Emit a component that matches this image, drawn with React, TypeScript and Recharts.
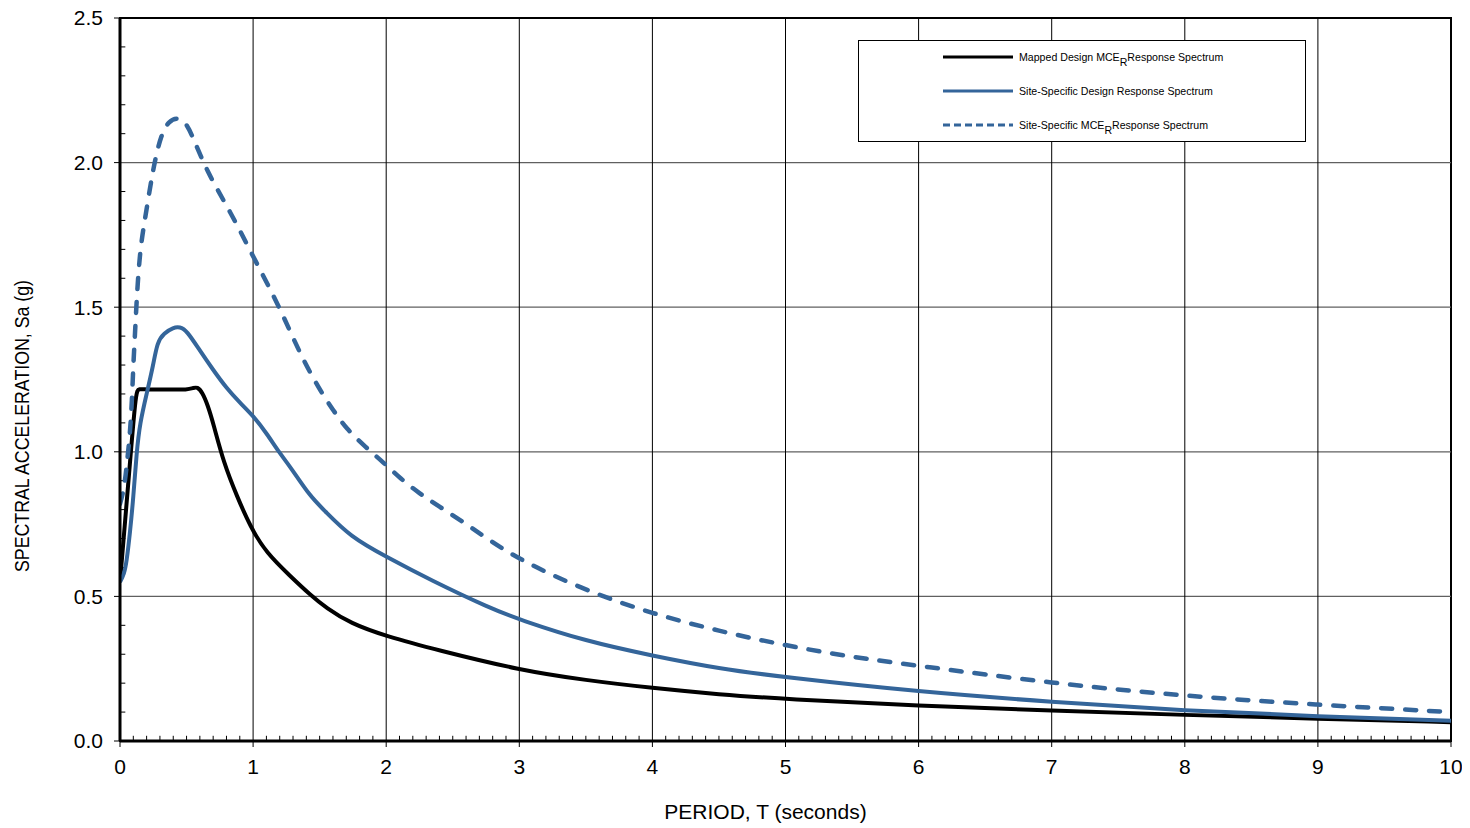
import React from 'react';
import { LineChart, Line, XAxis, YAxis, ReferenceLine, ReferenceArea, Legend } from 'recharts';

// ---- Axis ticks ----
const xMajorTicks = [0, 1, 2, 3, 4, 5, 6, 7, 8, 9, 10];
const yMajorTicks = [0, 0.5, 1.0, 1.5, 2.0, 2.5];
const xGridLines = [1, 2, 3, 4, 5, 6, 7, 8, 9];
const yGridLines = [0.5, 1.0, 1.5, 2.0];
const xMinorTicks = Array.from({ length: 99 }, (_, i) => Math.round((i + 1) * 10) / 100).filter((v) => Math.abs(v - Math.round(v)) > 1e-6);
const yMinorTicks = Array.from({ length: 24 }, (_, i) => Math.round((i + 1) * 10) / 100).filter((v) => Math.abs(v * 2 - Math.round(v * 2)) > 1e-6);

// ---- Series: Mapped Design MCE_R Response Spectrum ----
const mappedPeriod = [0, 0.04, 0.08, 0.12, 0.14, 0.2, 0.3, 0.4, 0.5, 0.55, 0.58, 0.62, 0.66, 0.7, 0.78, 0.88, 0.98, 1.1, 1.28, 1.43, 1.55, 1.73, 2.0, 2.38, 3.0, 3.5, 4.0, 4.5, 5.0, 6.0, 7.0, 8.0, 9.0, 10.0];
const mappedSa = [0.55, 0.77, 0.99, 1.21, 1.218, 1.215, 1.215, 1.215, 1.215, 1.22, 1.225, 1.205, 1.16, 1.1, 0.96, 0.845, 0.74, 0.65, 0.57, 0.505, 0.46, 0.407, 0.362, 0.315, 0.245, 0.21, 0.183, 0.161, 0.145, 0.122, 0.105, 0.09, 0.077, 0.065];

// ---- Series: Site-Specific Design Response Spectrum ----
const designPeriod = [0, 0.03, 0.05, 0.075, 0.1, 0.125, 0.15, 0.2, 0.25, 0.28, 0.33, 0.4, 0.45, 0.5, 0.6, 0.7, 0.8, 0.9, 1.0, 1.1, 1.2, 1.28, 1.43, 1.53, 1.73, 2.0, 2.33, 2.78, 3.0, 3.5, 4.0, 4.5, 5.0, 6.0, 7.0, 8.0, 9.0, 10.0];
const designSa = [0.55, 0.575, 0.62, 0.72, 0.84, 1.0, 1.1, 1.2, 1.3, 1.38, 1.41, 1.43, 1.432, 1.42, 1.35, 1.283, 1.22, 1.17, 1.125, 1.065, 0.995, 0.948, 0.845, 0.8, 0.706, 0.637, 0.557, 0.459, 0.42, 0.345, 0.295, 0.25, 0.22, 0.17, 0.135, 0.105, 0.085, 0.07];

// ---- Series: Site-Specific MCE_R Response Spectrum ----
const mcePeriod = [0, 0.03, 0.05, 0.075, 0.09, 0.1, 0.113, 0.125, 0.15, 0.19, 0.25, 0.31, 0.37, 0.43, 0.48, 0.53, 0.65, 0.83, 1.0, 1.2, 1.35, 1.5, 1.6, 1.7, 1.84, 2.0, 2.1, 2.25, 2.4, 2.57, 2.72, 3.0, 3.5, 4.0, 4.5, 5.0, 5.5, 6.0, 7.0, 8.0, 9.0, 10.0];
const mceSa = [0.82, 0.87, 0.95, 1.06, 1.18, 1.3, 1.41, 1.525, 1.7, 1.81, 1.985, 2.1, 2.145, 2.155, 2.145, 2.11, 1.97, 1.83, 1.675, 1.5, 1.34, 1.214, 1.145, 1.08, 1.018, 0.955, 0.91, 0.856, 0.81, 0.76, 0.712, 0.626, 0.52, 0.44, 0.38, 0.33, 0.29, 0.26, 0.2, 0.155, 0.125, 0.1];

const toData = (t: number[], s: number[]) => t.map((v, i) => ({ t: v, sa: s[i] }));
const mappedData = toData(mappedPeriod, mappedSa);
const designData = toData(designPeriod, designSa);
const mceData = toData(mcePeriod, mceSa);

const BLUE = '#34659A';
const FONT = 'Arial, "Liberation Sans", sans-serif';

const legendItems = [
  { main: 'Mapped Design MCE', sub: 'R', rest: 'Response Spectrum', color: '#000', dash: undefined as string | undefined },
  { main: 'Site-Specific Design Response Spectrum', sub: '', rest: '', color: BLUE, dash: undefined as string | undefined },
  { main: 'Site-Specific MCE', sub: 'R', rest: 'Response Spectrum', color: BLUE, dash: '7 4' },
];

const renderLegend = () => (
  <div
    style={{
      width: 446,
      height: 100,
      border: '1px solid #000',
      background: '#fff',
      fontFamily: FONT,
      fontSize: 10.6,
      color: '#000',
      position: 'relative',
    }}
  >
    {legendItems.map((it, i) => (
      <div key={i} style={{ position: 'absolute', left: 84, top: 8 + i * 34, height: 16, display: 'flex', alignItems: 'center', whiteSpace: 'nowrap' }}>
        <svg width={70} height={6} style={{ marginRight: 6 }}>
          <line x1={0} y1={3} x2={70} y2={3} stroke={it.color} strokeWidth={3} strokeDasharray={it.dash} />
        </svg>
        <span>
          {it.main}
          {it.sub ? <span style={{ position: 'relative', top: 5, fontSize: 10.6 }}>{it.sub}</span> : null}
          {it.rest}
        </span>
      </div>
    ))}
  </div>
);

const YTitle = () => {
  const cx = 21;
  const cy = 418;
  return (
    <text
      x={cx}
      y={cy}
      transform={`rotate(-90, ${cx}, ${cy})`}
      textAnchor="middle"
      fontFamily={FONT}
      fontSize={21}
      fill="#000"
      textLength={292}
      lengthAdjust="spacingAndGlyphs"
    >
      SPECTRAL ACCELERATION, Sa (g)
    </text>
  );
};

const XTitle = (props: any) => {
  const vb = props.viewBox || { x: 0, y: 0, width: 0, height: 0 };
  return (
    <text x={vb.x + vb.width / 2 - 20} y={811} textAnchor="middle" fontFamily={FONT} fontSize={21} fill="#000">
      PERIOD, T (seconds)
    </text>
  );
};

export default function App() {
  return (
    <div style={{ position: 'relative', width: 1462, height: 820 }}>
      <LineChart width={1462} height={820} margin={{ top: 10, right: 19, bottom: 0, left: 0 }}>
        <XAxis
          dataKey="t"
          type="number"
          domain={[0, 10]}
          ticks={xMajorTicks}
          interval={0}
          allowDataOverflow
          height={87}
          tickSize={6}
          tickMargin={12}
          axisLine={{ stroke: '#000', strokeWidth: 3 }}
          tickLine={{ stroke: '#000', strokeWidth: 1 }}
          tick={{ fill: '#000', fontSize: 21, fontFamily: FONT }}
          label={<XTitle />}
        />
        <YAxis
          type="number"
          domain={[0, 2.5]}
          ticks={yMajorTicks}
          interval={0}
          allowDataOverflow
          width={112}
          tickSize={6}
          tickMargin={11}
          tickFormatter={(v: number) => v.toFixed(1)}
          axisLine={{ stroke: '#000', strokeWidth: 3 }}
          tickLine={{ stroke: '#000', strokeWidth: 1 }}
          tick={{ fill: '#000', fontSize: 21, fontFamily: FONT }}
          label={<YTitle />}
        />
        {yGridLines.map((v) => (
          <ReferenceLine key={'hy' + v} y={v} stroke="#606060" strokeWidth={1.3} />
        ))}
        {xGridLines.map((v) => (
          <ReferenceLine key={'vx' + v} x={v} stroke="#000" strokeWidth={1} />
        ))}
        {xMinorTicks.map((v) => (
          <ReferenceLine key={'mx' + v} segment={[{ x: v, y: 0 }, { x: v, y: 0.018 }]} stroke="#000" strokeWidth={1} />
        ))}
        {yMinorTicks.map((v) => (
          <ReferenceLine key={'my' + v} segment={[{ x: 0, y: v }, { x: 0.04, y: v }]} stroke="#000" strokeWidth={1} />
        ))}
        <ReferenceArea x1={0} x2={10} y1={0} y2={2.5} fill="none" stroke="#000" strokeWidth={2} />
        <Line data={mappedData} dataKey="sa" type="basis" stroke="#000" strokeWidth={4} dot={false} isAnimationActive={false} name="Mapped Design MCER Response Spectrum" />
        <Line data={designData} dataKey="sa" type="basis" stroke={BLUE} strokeWidth={4} dot={false} isAnimationActive={false} name="Site-Specific Design Response Spectrum" />
        <Line data={mceData} dataKey="sa" type="basis" stroke={BLUE} strokeWidth={4.5} strokeDasharray="11 13" strokeLinecap="round" dot={false} isAnimationActive={false} name="Site-Specific MCER Response Spectrum" />
        <Legend
          layout="vertical"
          align="center"
          verticalAlign="middle"
          content={renderLegend}
          wrapperStyle={{ position: 'absolute', left: 850, top: 32, width: 448, height: 102 }}
        />
      </LineChart>
    </div>
  );
}
